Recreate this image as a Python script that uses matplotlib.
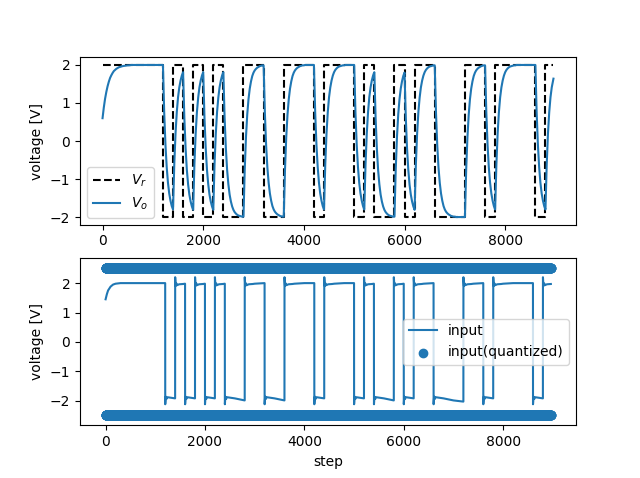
import numpy as np
import matplotlib
matplotlib.use("Agg")
import matplotlib.pyplot as plt

# ---------------- data ----------------
n_steps = 8960

# reference voltage V_r: switching steps and levels
vr_switch_steps = [0, 1200, 1400, 1600, 1800, 2000, 2200, 2400, 2800, 3200, 3600,
                   4200, 4400, 5000, 5200, 5400, 5800, 6000, 6200, 6600, 7200,
                   7600, 7800, 8600, 8800]
vr_levels = [2, -2, 2, -2, 2, -2, 2, -2, 2, -2, 2,
             -2, 2, -2, 2, -2, 2, -2, 2, -2, 2,
             -2, 2, -2, 2]

# output voltage V_o sampled every 25 steps (last sample at step 8959)
vo_values = [
    # 0 .. 1175
    0.60, 0.88, 1.11, 1.29, 1.44, 1.56, 1.66, 1.73, 1.79, 1.84, 1.87, 1.90,
    1.92, 1.94, 1.95, 1.96, 1.97, 1.975, 1.98, 1.985, 1.99, 1.99, 1.995,
    2.00, 2.00, 2.00, 2.00, 2.00, 2.00, 2.00, 2.00, 2.00, 2.00, 2.00, 2.00, 2.00,
    2.00, 2.00, 2.00, 2.00, 2.00, 2.00, 2.00, 2.00, 2.00, 2.00, 2.00, 2.00,
    # 1200
    2.00, 0.75, -0.10, -0.69, -1.10, -1.38, -1.57, -1.71,
    # 1400
    -1.80, -0.62, 0.20, 0.76, 1.15, 1.41, 1.59, 1.72,
    # 1600
    1.81, 0.62, -0.19, -0.76, -1.14, -1.41, -1.59, -1.72,
    # 1800
    -1.81, -0.62, 0.19, 0.76, 1.14, 1.41, 1.59, 1.72,
    # 2000
    1.81, 0.62, -0.19, -0.76, -1.14, -1.41, -1.59, -1.72,
    # 2200
    -1.81, -0.62, 0.19, 0.76, 1.14, 1.41, 1.59, 1.72,
    # 2400
    1.81, 0.62, -0.19, -0.76, -1.14, -1.41, -1.59, -1.72,
    -1.81, -1.87, -1.91, -1.94, -1.96, -1.97, -1.98, -1.99,
    # 2800
    -1.99, -0.75, 0.11, 0.70, 1.10, 1.38, 1.57, 1.71,
    1.80, 1.86, 1.90, 1.93, 1.95, 1.97, 1.98, 1.99,
    # 3200
    1.99, 0.75, -0.11, -0.70, -1.10, -1.38, -1.57, -1.71,
    -1.80, -1.86, -1.90, -1.93, -1.95, -1.97, -1.98, -1.99,
    # 3600
    -1.99, -0.75, 0.11, 0.70, 1.10, 1.38, 1.57, 1.71,
    1.80, 1.86, 1.90, 1.93, 1.95, 1.97, 1.98, 1.99,
    1.99, 2.00, 2.00, 2.00, 2.00, 2.00, 2.00, 2.00,
    # 4200
    2.00, 0.75, -0.10, -0.69, -1.10, -1.38, -1.57, -1.71,
    # 4400
    -1.80, -0.62, 0.20, 0.76, 1.15, 1.41, 1.59, 1.72,
    1.81, 1.87, 1.91, 1.94, 1.96, 1.97, 1.98, 1.99,
    1.99, 2.00, 2.00, 2.00, 2.00, 2.00, 2.00, 2.00,
    # 5000
    2.00, 0.75, -0.10, -0.69, -1.10, -1.38, -1.57, -1.71,
    # 5200
    -1.80, -0.62, 0.20, 0.76, 1.15, 1.41, 1.59, 1.72,
    # 5400
    1.81, 0.62, -0.19, -0.76, -1.14, -1.41, -1.59, -1.72,
    -1.81, -1.87, -1.91, -1.94, -1.96, -1.97, -1.98, -1.99,
    # 5800
    -1.99, -0.75, 0.11, 0.70, 1.10, 1.38, 1.57, 1.71,
    # 6000
    1.80, 0.62, -0.20, -0.76, -1.15, -1.41, -1.59, -1.72,
    # 6200
    -1.81, -0.62, 0.19, 0.76, 1.14, 1.41, 1.59, 1.72,
    1.81, 1.87, 1.91, 1.94, 1.96, 1.97, 1.98, 1.99,
    # 6600
    1.99, 0.75, -0.11, -0.70, -1.10, -1.38, -1.57, -1.71,
    -1.80, -1.86, -1.90, -1.93, -1.95, -1.97, -1.98, -1.99,
    -1.99, -2.00, -2.00, -2.00, -2.00, -2.00, -2.00, -2.00,
    # 7200
    -2.00, -0.75, 0.10, 0.69, 1.10, 1.38, 1.57, 1.71,
    1.80, 1.86, 1.90, 1.93, 1.95, 1.97, 1.98, 1.99,
    # 7600
    1.99, 0.75, -0.11, -0.70, -1.10, -1.38, -1.57, -1.71,
    # 7800
    -1.80, -0.62, 0.20, 0.76, 1.15, 1.41, 1.59, 1.72,
    1.81, 1.87, 1.91, 1.94, 1.96, 1.97, 1.98, 1.99,
    1.99, 2.00, 2.00, 2.00, 2.00, 2.00, 2.00, 2.00,
    2.00, 2.00, 2.00, 2.00, 2.00, 2.00, 2.00, 2.00,
    # 8600
    2.00, 0.75, -0.10, -0.69, -1.10, -1.38, -1.57, -1.71,
    # 8800 .. 8950, then 8959
    -1.80, -0.62, 0.20, 0.76, 1.15, 1.41, 1.59,
    1.64,
]

# controller input: start-up shape, and shape after each up / down switch
input_start_offsets = [0, 25, 50, 100, 150, 200, 300, 1199]
input_start_values = [1.45, 1.62, 1.75, 1.88, 1.95, 1.98, 2.00, 2.00]
input_up_offsets = [0, 10, 25, 40, 80, 160, 200, 400, 600, 800]
input_up_values = [2.20, 1.90, 1.99, 1.93, 1.96, 1.97, 1.98, 2.00, 2.00, 2.00]
input_down_offsets = [0, 10, 25, 40, 80, 160, 200, 400, 600]
input_down_values = [-2.12, -1.86, -1.94, -1.88, -1.89, -1.91, -1.92, -1.99, -2.03]

# quantized input levels
quant_levels = [2.5, -2.5]

# ---------------- build series ----------------
vo_steps = np.append(np.arange(len(vo_values) - 1) * 25, n_steps - 1)

vr_x = vr_switch_steps + [n_steps - 1]
vr_y = vr_levels + [vr_levels[-1]]

in_x = list(input_start_offsets)
in_y = list(input_start_values)
ends = vr_switch_steps[2:] + [n_steps]
for s, e, lev in zip(vr_switch_steps[1:], ends, vr_levels[1:]):
    offs, vals = ((input_up_offsets, input_up_values) if lev > 0
                  else (input_down_offsets, input_down_values))
    L = e - s
    for o, v in zip(offs, vals):
        if o < L - 1:
            in_x.append(s + o)
            in_y.append(v)
    in_x.append(e - 1)
    in_y.append(dict(zip(offs, vals))[L])

quant_steps = np.arange(0, n_steps, 2)

# ---------------- plot ----------------
fig, (ax1, ax2) = plt.subplots(2, 1, figsize=(6.4, 4.78), dpi=100)

ax1.plot(vr_x, vr_y, 'k--', drawstyle='steps-post', label='$V_r$')
ax1.plot(vo_steps, vo_values, color='C0', label='$V_o$')
ax1.set_ylabel('voltage [V]')
ax1.legend(loc='lower left')

ax2.plot(in_x, in_y, color='C0', label='input')
for i, q in enumerate(quant_levels):
    ax2.scatter(quant_steps, np.full(len(quant_steps), q), color='C0',
                label='input(quantized)' if i == 0 else None)
ax2.set_xlim(-515, 9465)
ax2.set_ylim(-2.84, 2.85)
ax2.set_ylabel('voltage [V]')
ax2.set_xlabel('step')
ax2.legend(loc='center right')

fig.savefig('out.png', dpi=100)
